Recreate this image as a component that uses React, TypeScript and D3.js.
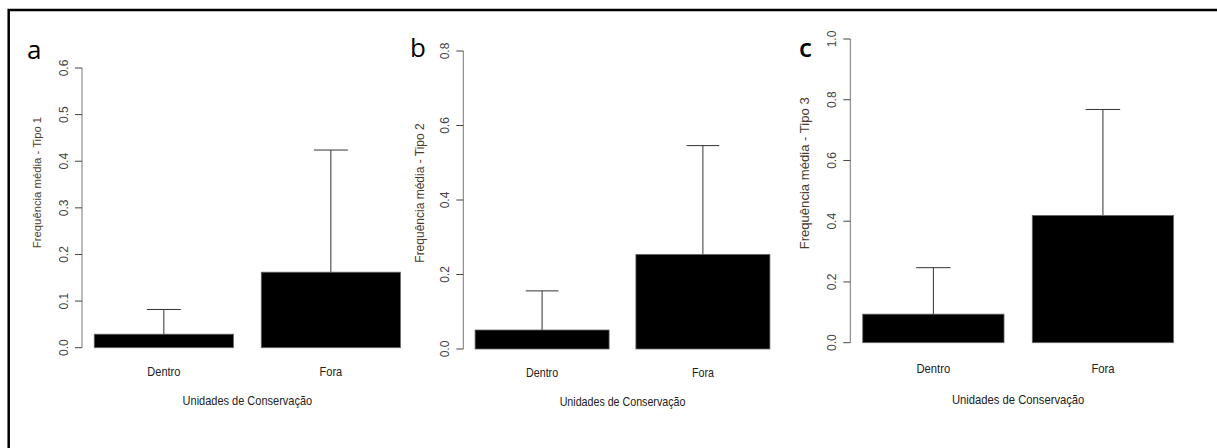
import React from 'react';
import { scaleBand, scaleLinear } from 'd3';

const categories = ['Dentro', 'Fora'];

// mean frequency and error (sd) per panel
const tipo1Means = [0.029, 0.162];
const tipo1Errors = [0.053, 0.262];
const tipo2Means = [0.051, 0.254];
const tipo2Errors = [0.105, 0.292];
const tipo3Means = [0.094, 0.419];
const tipo3Errors = [0.153, 0.349];

const tipo1Ticks = [0, 0.1, 0.2, 0.3, 0.4, 0.5, 0.6];
const tipo2Ticks = [0, 0.2, 0.4, 0.6, 0.8];
const tipo3Ticks = [0, 0.2, 0.4, 0.6, 0.8, 1.0];

const yTitles = ['Frequência média - Tipo 1', 'Frequência média - Tipo 2', 'Frequência média - Tipo 3'];
const xTitle = 'Unidades de Conservação';
const panelLetters = ['a', 'b', 'c'];

const panels = [
  { means: tipo1Means, errors: tipo1Errors, ticks: tipo1Ticks, axisX: 82, plotRight: 412.7, y0: 347.7, yTop: 68,
    letterX: 27, letterY: 59, letterWeight: 400, titleX: 36.7, titleY: 182.5, titleSize: 11.3,
    labelY: 375.5, xTitleY: 404.5, sx: 0.88 },
  { means: tipo2Means, errors: tipo2Errors, ticks: tipo2Ticks, axisX: 463.3, plotRight: 781.7, y0: 349, yTop: 51,
    letterX: 410, letterY: 57, letterWeight: 400, titleX: 420, titleY: 193, titleSize: 12,
    labelY: 377, xTitleY: 406, sx: 0.855 },
  { means: tipo3Means, errors: tipo3Errors, ticks: tipo3Ticks, axisX: 850.3, plotRight: 1186, y0: 342.7, yTop: 39,
    letterX: 799, letterY: 57, letterWeight: 600, titleX: 805, titleY: 173.3, titleSize: 13.1,
    labelY: 373, xTitleY: 404, sx: 0.9 },
];

const font = '"Liberation Sans", Arial, sans-serif';

const Panel = ({ p, i }: { p: typeof panels[number]; i: number }) => {
  const bw = (p.plotRight - p.axisX) / 2.376;
  const x = scaleBand<string>()
    .domain(categories)
    .range([p.axisX, p.plotRight])
    .paddingInner(1 / 6)
    .paddingOuter(0.088 / 1.2);
  const maxTick = p.ticks[p.ticks.length - 1];
  const y = scaleLinear().domain([0, maxTick]).range([p.y0, p.yTop]);
  const capHalf = bw * 0.122;
  const fmt = (v: number) => v.toFixed(1);

  return (
    <g>
      <text x={p.letterX} y={p.letterY} fontFamily='"Open Sans", sans-serif' fontSize={26}
        fontWeight={p.letterWeight} fill='#000'>{panelLetters[i]}</text>

      {/* y axis */}
      <line x1={p.axisX} x2={p.axisX} y1={y(0)} y2={y(maxTick)} stroke='#777' strokeWidth={1} />
      {p.ticks.map((t) => (
        <g key={t}>
          <line x1={p.axisX - 7} x2={p.axisX} y1={y(t)} y2={y(t)} stroke='#444' strokeWidth={1} />
          <text transform={`translate(${p.axisX - 14.5},${y(t)}) rotate(-90)`} textAnchor='middle'
            fontFamily={font} fontSize={12} fill='#444'>{fmt(t)}</text>
        </g>
      ))}
      <text transform={`translate(${p.titleX + 4},${p.titleY}) rotate(-90)`} textAnchor='middle'
        fontFamily={font} fontSize={p.titleSize} fill='#4b3b2b'>{yTitles[i]}</text>

      {/* bars with error bars */}
      {categories.map((c, j) => {
        const cx = (x(c) as number) + x.bandwidth() / 2;
        return (
          <g key={c}>
            <line x1={cx} x2={cx} y1={y(p.means[j])} y2={y(p.means[j] + p.errors[j])} stroke='#333' />
            <line x1={cx - capHalf} x2={cx + capHalf} y1={y(p.means[j] + p.errors[j])}
              y2={y(p.means[j] + p.errors[j])} stroke='#333' />
            <rect x={x(c)} y={y(p.means[j])} width={x.bandwidth()} height={y(0) - y(p.means[j])}
              fill='#000' stroke='#666' strokeWidth={0.8} />
            <text transform={`translate(${cx},${p.labelY}) scale(${p.sx},1)`} textAnchor='middle'
              fontFamily={font} fontSize={12.5} fill='#222'>{c}</text>
          </g>
        );
      })}
      <text transform={`translate(${(p.axisX + p.plotRight) / 2},${p.xTitleY}) scale(${p.sx},1)`}
        textAnchor='middle' fontFamily={font} fontSize={12.5} fill='#222'>{xTitle}</text>
    </g>
  );
};

const App = () => {
  return (
    <svg width={1217} height={448} style={{ position: 'absolute', left: 0, top: 0, background: '#fff' }}>
      <rect x={0} y={0} width={1217} height={448} fill='#fff' />
      <rect x={8.7} y={10} width={1300} height={600} fill='none' stroke='#000' strokeWidth={2.5} />
      {panels.map((p, i) => <Panel key={i} p={p} i={i} />)}
    </svg>
  );
};

export default App;
